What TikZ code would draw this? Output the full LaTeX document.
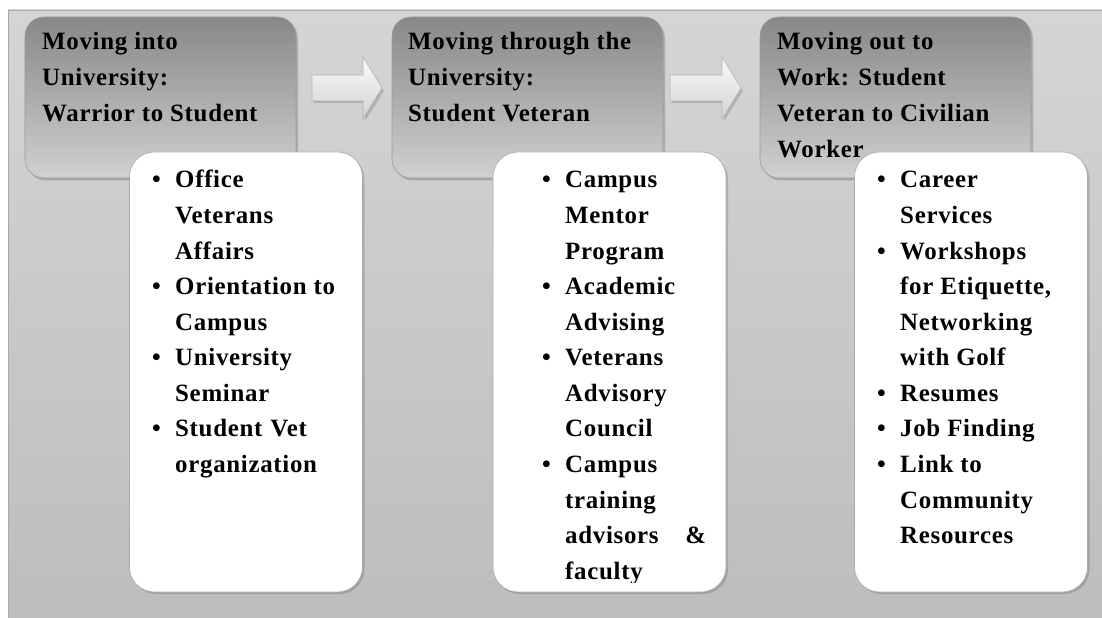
\documentclass[tikz,border=0pt]{standalone}
\usepackage{fontspec}
\setmainfont{Liberation Serif}[LetterSpace=2.8]
\definecolor{panelTop}{HTML}{D5D5D5}
\definecolor{panelBot}{HTML}{BDBDBD}
\definecolor{panelEdge}{HTML}{A9A9A9}
\definecolor{hdrTop}{HTML}{888888}
\definecolor{hdrBot}{HTML}{D0D0D0}
\definecolor{hdrEdge}{HTML}{9C9C9C}
\definecolor{boxEdge}{HTML}{A8A8A8}
\definecolor{arrTop}{HTML}{FBFBFB}
\definecolor{arrBot}{HTML}{D2D2D2}
\definecolor{arrEdge}{HTML}{B4B4B4}
\begin{document}
\begin{tikzpicture}[x=1bp,y=-1bp,
  hdr/.style={shade, top color=hdrTop, bottom color=hdrBot, draw=hdrEdge, line width=0.6bp,
    rounded corners=19bp, minimum width=271bp, minimum height=161bp, inner sep=0pt},
  hdrshadow/.style={fill=black, opacity=0.18, rounded corners=19bp, minimum width=271bp,
    minimum height=161bp, inner sep=0pt},
  listbox/.style={fill=white, draw=boxEdge, line width=0.6bp, rounded corners=25bp,
    minimum width=233bp, minimum height=440bp, inner sep=0pt},
  boxshadow/.style={fill=black, opacity=0.15, rounded corners=25bp, minimum width=233bp,
    minimum height=440bp, inner sep=0pt},
  hdrtext/.style={anchor=base west, inner sep=0pt, font=\bfseries\fontsize{25}{36}\selectfont},
  listtext/.style={anchor=base west, inner sep=0pt, font=\bfseries\fontsize{25}{35.7}\selectfont},
  arrowshape/.style={shade, top color=arrTop, bottom color=arrBot, draw=arrEdge, line width=0.6bp}
]
\useasboundingbox (0,0) rectangle (1102,618);
\fill[white] (0,0) rectangle (1102,618);
% background panel
\shade[top color=panelTop, bottom color=panelBot] (8,10) rectangle (1102,618);
\draw[panelEdge, line width=0.6bp] (8,618) -- (8,10) -- (1102,10);

\newcommand{\bul}{\makebox[23bp][l]{•}}

% header shadows and headers
\node[hdrshadow] (s1) at (162.5,100) {};
\node[hdrshadow] (s2) at (529.5,100) {};
\node[hdrshadow] (s3) at (897.5,100) {};
\node[hdr] (h1) at (160.5,97.5) {};
\node[hdr] (h2) at (527.5,97.5) {};
\node[hdr] (h3) at (895.5,97.5) {};

\node[hdrtext] (t1) at (42,50) {\begin{tabular}[t]{@{}l@{}}Moving into\\University:\\Warrior to Student\end{tabular}};
\node[hdrtext] (t2) at (408,50) {\begin{tabular}[t]{@{}l@{}}Moving through the\\University:\\Student Veteran\end{tabular}};
\node[hdrtext] (t3) at (777,50) {\begin{tabular}[t]{@{}l@{}}Moving out to\\Work: Student\\Veteran to Civilian\\Worker\end{tabular}};

% arrows
\coordinate (a1) at (312,88);
\coordinate (a2) at (670,88);
\fill[black, opacity=0.15] ([shift={(2,3)}]a1) -- ++(0,-12) -- ++(51,0) -- ++(0,-18) -- ++(19,30) -- ++(-19,30) -- ++(0,-18) -- ++(-51,0) -- cycle;
\fill[black, opacity=0.15] ([shift={(2,3)}]a2) -- ++(0,-12) -- ++(52,0) -- ++(0,-18) -- ++(19,30) -- ++(-19,30) -- ++(0,-18) -- ++(-52,0) -- cycle;
\path[arrowshape] (a1) -- ++(0,-13) -- ++(51,0) -- ++(0,-18) -- ++(19,31) -- ++(-19,31) -- ++(0,-18) -- ++(-51,0) -- cycle;
\path[arrowshape] (a2) -- ++(0,-13) -- ++(52,0) -- ++(0,-18) -- ++(19,31) -- ++(-19,31) -- ++(0,-18) -- ++(-52,0) -- cycle;

% list boxes
\node[boxshadow] (bs1) at (248,374) {};
\node[boxshadow] (bs2) at (611.5,374) {};
\node[boxshadow] (bs3) at (973,374) {};
\node[listbox] (b1) at (246,372) {};
\node[listbox] (b2) at (609.5,372) {};
\node[listbox] (b3) at (971,372) {};

\node[listtext] (l1) at (152,188) {\begin{tabular}[t]{@{}l@{}l@{}}
\bul & Office\\
 & Veterans\\
 & Affairs\\
\bul & Orientation to\\
 & Campus\\
\bul & University\\
 & Seminar\\
\bul & Student\hspace{8bp}Vet\\
 & organization
\end{tabular}};

\begin{scope}
\clip (493,152) rectangle (727,582);
\node[listtext] (l2) at (542,188) {\begin{tabular}[t]{@{}l@{}l@{}}
\bul & Campus\\
 & Mentor\\
 & Program\\
\bul & Academic\\
 & Advising\\
\bul & Veterans\\
 & Advisory\\
 & Council\\
\bul & Campus\\
 & training\\
 & \hbox to 141bp{advisors\hfill\&}\\
 & faculty
\end{tabular}};
\end{scope}

\node[listtext] (l3) at (877,188) {\begin{tabular}[t]{@{}l@{}l@{}}
\bul & Career\\
 & Services\\
\bul & Workshops\\
 & for Etiquette,\\
 & Networking\\
 & with Golf\\
\bul & Resumes\\
\bul & Job Finding\\
\bul & Link to\\
 & Community\\
 & Resources
\end{tabular}};
\end{tikzpicture}
\end{document}
